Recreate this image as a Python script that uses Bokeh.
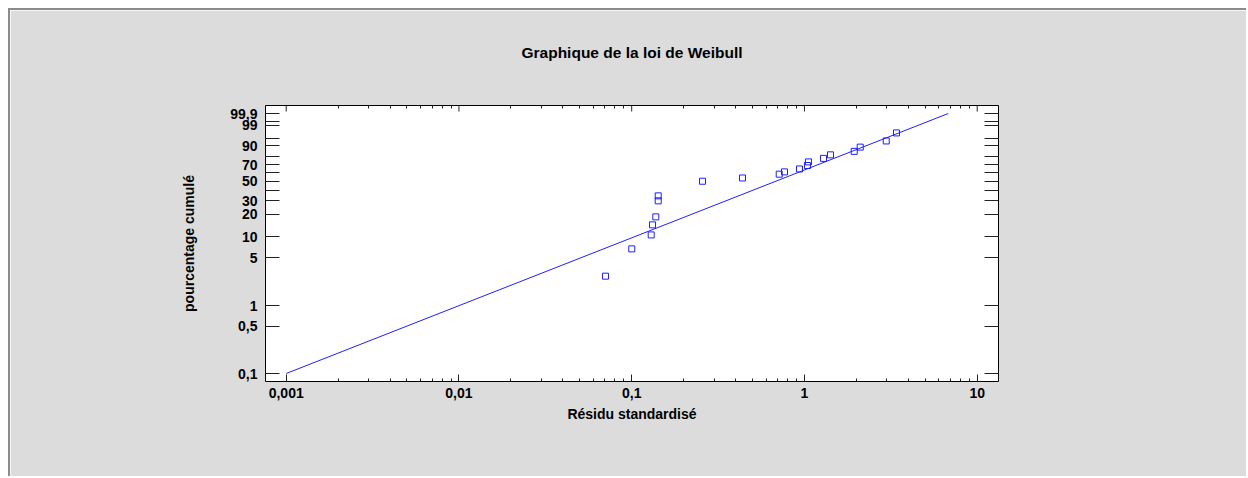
import numpy as np
from bokeh.plotting import figure
from bokeh.models import (Range1d, LinearAxis, LogAxis, FixedTicker, LogScale,
                          CustomJSTickFormatter, ColumnDataSource)
from bokeh.embed import file_html
from bokeh.resources import INLINE

# ---------------- data ----------------
residu = [0.0705, 0.1001, 0.1297, 0.1320, 0.1379, 0.1424, 0.1424, 0.2570,
          0.4379, 0.7143, 0.7664, 0.9361, 1.041, 1.055, 1.289, 1.415,
          1.941, 2.103, 2.974, 3.411]
pourcentage = [2.70, 6.69, 10.54, 14.50, 18.58, 29.87, 34.31, 49.87,
               53.76, 58.41, 61.29, 64.94, 69.25, 73.63, 77.74, 81.64,
               85.14, 88.94, 93.39, 97.19]
fit_x = [0.001, 6.8]
fit_pct = [0.1, 99.9]

y_label_pct = [0.1, 0.5, 1, 5, 10, 20, 30, 50, 70, 90, 99, 99.9]
y_label_text = ["0,1", "0,5", "1", "5", "10", "20", "30", "50", "70", "90", "99", "99,9"]
y_unlabeled_pct = [40, 60, 80, 95, 99.5]
x_ticks = [0.001, 0.01, 0.1, 1, 10]
x_tick_labels = ["0,001", "0,01", "0,1", "1", "10"]

title = "Graphique de la loi de Weibull"
x_title = "Résidu standardisé"
y_title = "pourcentage cumulé"


def weib(p):
    p = np.asarray(p, dtype=float) / 100.0
    return np.log(-np.log(1.0 - p))


FONT = "Liberation Sans"
BG = "#dcdcdc"
BLUE = "#1f1fff"
TICK = "#222222"

y_major_w = [float(v) for v in weib(y_label_pct)]
y_minor_w = [float(v) for v in weib(y_unlabeled_pct)]
x_minor = [m * d for d in x_ticks[:-1] for m in range(2, 10)]

XR = Range1d(10 ** -3.1198, 10 ** 1.1233)
YR = Range1d(-7.179, 2.205)

p = figure(width=1238, height=468, output_backend="svg", toolbar_location=None,
           x_axis_type=None, y_axis_type=None, x_range=XR, y_range=YR,
           min_border_left=255, min_border_right=250,
           min_border_top=95, min_border_bottom=97,
           background_fill_color="white", border_fill_color=BG,
           outline_line_color="black", outline_line_width=1,
           styles={"margin-left": "8px", "margin-top": "8px",
                   "border-top": "2px solid #8c8c8c",
                   "border-left": "2px solid #8c8c8c"})
p.x_scale = LogScale()
p.grid.visible = False

yfmt = CustomJSTickFormatter(args=dict(t=y_major_w, l=y_label_text), code="""
for (let i = 0; i < t.length; i++) { if (Math.abs(t[i] - tick) < 1e-6) return l[i]; }
return tick.toString();""")
xfmt = CustomJSTickFormatter(args=dict(t=x_ticks, l=x_tick_labels), code="""
for (let i = 0; i < t.length; i++) { if (Math.abs(t[i] - tick) < 1e-6 * t[i]) return l[i]; }
return tick.toString();""")


def style(ax, tick_in, minor_in):
    ax.axis_line_color = None
    ax.major_tick_in = tick_in
    ax.major_tick_out = 0
    ax.minor_tick_in = minor_in
    ax.minor_tick_out = 0
    ax.major_tick_line_color = TICK
    ax.minor_tick_line_color = TICK
    ax.major_label_text_font = FONT
    ax.major_label_text_font_style = "bold"
    ax.major_label_text_font_size = "14px"
    ax.major_label_text_color = "black"
    ax.axis_label_text_font = FONT
    ax.axis_label_text_font_style = "bold"
    ax.axis_label_text_font_size = "14px"
    ax.axis_label_text_color = "black"


# bottom axis
bottom = LogAxis(ticker=FixedTicker(ticks=x_ticks, minor_ticks=x_minor),
                 formatter=xfmt, axis_label=x_title)
style(bottom, 7, 3)
bottom.major_label_standoff = 6
bottom.axis_label_standoff = 5
p.add_layout(bottom, "below")

# top axis: minor ticks only (no labels), carries the chart title as its label
top = LogAxis(ticker=FixedTicker(ticks=[], minor_ticks=x_minor), axis_label=title)
style(top, 6, 3)
top.major_label_standoff = 0
top.axis_label_text_font_size = "15.5px"
top.axis_label_standoff = 45
p.add_layout(top, "above")

# left axis: labelled ticks as major, unlabelled as minor (same length)
left = LinearAxis(ticker=FixedTicker(ticks=y_major_w, minor_ticks=y_minor_w),
                  formatter=yfmt, axis_label=y_title)
style(left, 14, 14)
left.major_label_standoff = 8
left.axis_label_standoff = 30
p.add_layout(left, "left")

# right axis: all ticks as minor ticks -> no labels
right = LinearAxis(ticker=FixedTicker(ticks=[], minor_ticks=y_major_w + y_minor_w))
style(right, 14, 14)
right.major_label_standoff = 0
p.add_layout(right, "right")

# decade ticks on the top edge (longer than the minor ones)
top_src = ColumnDataSource(dict(x=x_ticks, y=[YR.end] * len(x_ticks)))
p.ray("x", "y", source=top_src, length=6, length_units="screen",
      angle=-np.pi / 2, line_color=TICK, line_width=1)

fit_src = ColumnDataSource(dict(x=fit_x, y=weib(fit_pct)))
p.line("x", "y", source=fit_src, line_color=BLUE, line_width=1)

pts = ColumnDataSource(dict(x=residu, y=weib(pourcentage)))
p.scatter("x", "y", source=pts, marker="square", size=6,
          fill_color=None, line_color=BLUE, line_width=1)

open("out.html", "w").write(file_html(p, INLINE))
